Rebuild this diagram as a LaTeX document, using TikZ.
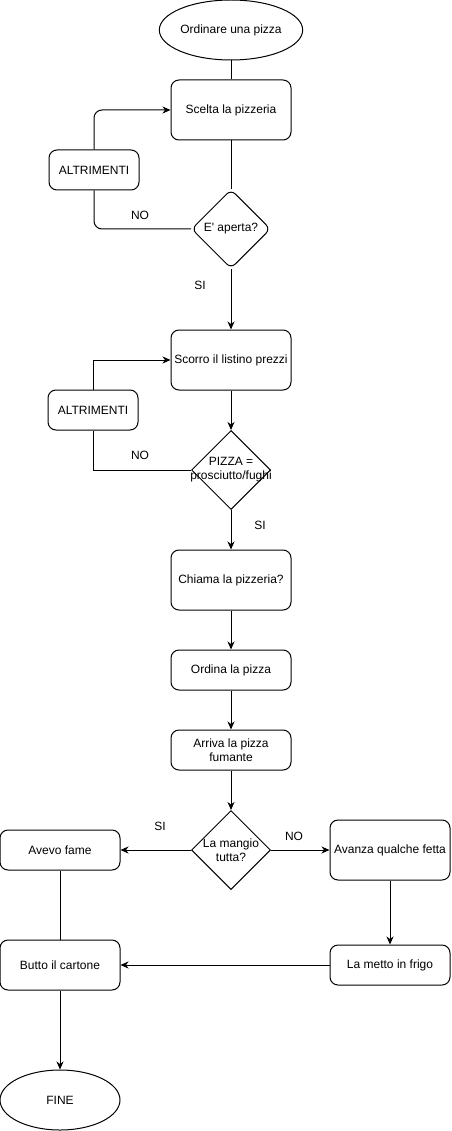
\documentclass[tikz,border=0pt]{standalone}
\usepackage{fontspec}
\setmainfont{Liberation Sans}
\usetikzlibrary{shapes.geometric,arrows.meta}
\def\myradius{8pt}
\def\mylw{1pt}
\tikzset{
  startstop/.style = {ellipse, draw, line width=\mylw, minimum width=120pt, minimum height=60pt, inner sep=0pt},
  stepbox/.style = {rectangle, draw, line width=\mylw, rounded corners=\myradius, minimum width=120pt, minimum height=60pt, align=center, inner sep=1pt},
  altbox/.style = {stepbox, minimum width=90pt, minimum height=40pt},
  choice/.style = {diamond, draw, line width=\mylw, minimum width=79pt, minimum height=79pt, inner sep=0pt},
  flow/.style = {line width=\mylw},
  arrow/.style = {flow, -{Stealth[length=8pt,width=7pt,inset=2.5pt]}}
}

\begin{document}
\begin{tikzpicture}[x=1pt, y=-1pt, font=\fontsize{12}{14}\selectfont]
\useasboundingbox (0,0) rectangle (451,1131);

% first block
\node[startstop] (start) at (231,30) {Ordinare una pizza};
\node[stepbox] (scelta) at (231,110) {Scelta la pizzeria};
\node[choice, rounded corners=6pt] (aperta) at (231,229) {};
\node[align=center] (apertatext) at (aperta) {E\textquotesingle{} aperta?};
\node[altbox] (alt1) at (94,170) {ALTRIMENTI};

% second block
\node[stepbox] (scorro) at (231,360) {Scorro il listino prezzi};
\node[choice] (pizza) at (231,470) {};
\node[align=center] (pizzatext) at (pizza) {PIZZA =\\prosciutto/fughi};
\node[altbox] (alt2) at (93,410) {ALTRIMENTI};

% third block
\node[stepbox] (chiama) at (231,580) {Chiama la pizzeria?};
\node[stepbox, minimum height=40pt] (ordina) at (231,670) {Ordina la pizza};
\node[stepbox, minimum height=40pt] (arriva) at (231,750) {Arriva la pizza\\fumante};
\node[choice] (mangio) at (231,850) {};
\node[align=center] (mangiotext) at (mangio) {La mangio\\tutta?};

% the end
\node[stepbox, minimum height=40pt] (avevo) at (60,850) {Avevo fame};
\node[stepbox] (avanza) at (390,850) {Avanza qualche fetta};
\node[stepbox, minimum height=40pt] (frigo) at (390,965) {La metto in frigo};
\node[stepbox, minimum height=50pt] (butto) at (60,965) {Butto il cartone};
\node[startstop] (fine) at (60,1100) {FINE};

% edge labels
\node (no1) at (140,215) {NO};
\node (si1) at (200,285) {SI};
\node (no2) at (140,455) {NO};
\node (si2) at (260,525) {SI};
\node (si3) at (160,826) {SI};
\node (no3) at (294,836) {NO};

\draw[flow] (start) -- (scelta);
\draw[flow] (scelta) -- (aperta);
\draw[flow, rounded corners=8pt] (aperta.west) -| (alt1.south); %NO loop
\draw[arrow, rounded corners=8pt] (alt1.north) |- (scelta.west);
\draw[flow] (pizza.west) -| (alt2.south); %NO loop
\draw[arrow] (alt2.north) |- (scorro.west);

\foreach \a/\b in {aperta/scorro, scorro/pizza, pizza/chiama, chiama/ordina, ordina/arriva, arriva/mangio, avanza/frigo, butto/fine}
{
    \draw[arrow] (\a) -- (\b);
}
\draw[arrow] (mangio) -- (avevo); %SI
\draw[arrow] (mangio) -- (avanza); %NO
\draw[arrow] (frigo) -- (butto);
\draw[flow] (avevo) -- (butto);
\end{tikzpicture}
\end{document}
